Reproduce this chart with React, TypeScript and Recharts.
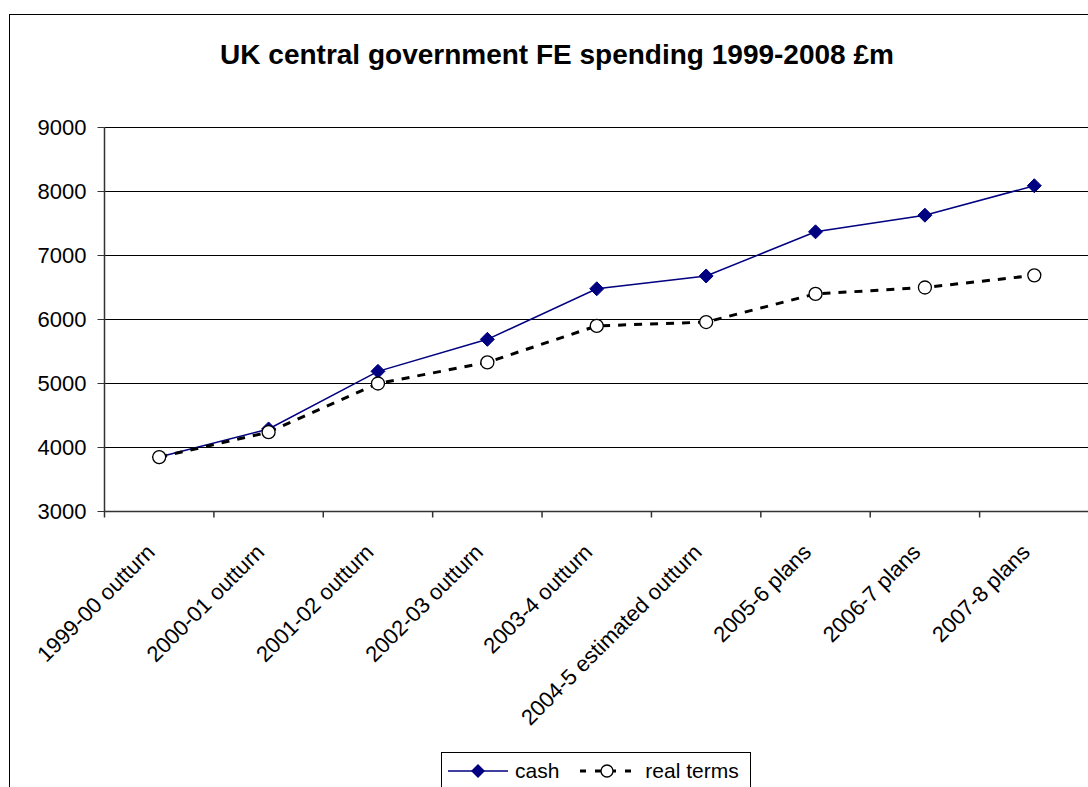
import React from "react";
import { CartesianGrid, Legend, Line, LineChart, XAxis, YAxis } from "recharts";

const CATEGORIES = [
  "1999-00 outturn",
  "2000-01 outturn",
  "2001-02 outturn",
  "2002-03 outturn",
  "2003-4 outturn",
  "2004-5 estimated outturn",
  "2005-6 plans",
  "2006-7 plans",
  "2007-8 plans",
];
const CASH = [3850, 4290, 5190, 5690, 6480, 6680, 7370, 7630, 8090];
const REAL_TERMS = [3850, 4240, 5000, 5330, 5900, 5960, 6400, 6500, 6690];
const Y_TICKS = [3000, 4000, 5000, 6000, 7000, 8000, 9000];

const data = CATEGORIES.map((name, i) => ({
  name,
  cash: CASH[i],
  real: REAL_TERMS[i],
}));

const FONT = '"Liberation Sans", Arial, sans-serif';
const NAVY = "#000080";

const CHART_W = 1094;
const CHART_H = 785;
const MARGIN = { top: 112.5, right: 15, left: 0, bottom: 88.5 };
const Y_AXIS_W = 94.5;
const X_AXIS_H = 200;
const BAND = (CHART_W - MARGIN.left - MARGIN.right - Y_AXIS_W) / CATEGORIES.length;

function Diamond({ cx, cy }: { cx?: number; cy?: number }) {
  if (cx == null || cy == null) return null;
  const r = 7;
  return (
    <polygon
      points={`${cx},${cy - r} ${cx + r},${cy} ${cx},${cy + r} ${cx - r},${cy}`}
      fill={NAVY}
      stroke={NAVY}
    />
  );
}

function OpenCircle({ cx, cy }: { cx?: number; cy?: number }) {
  if (cx == null || cy == null) return null;
  return <circle cx={cx} cy={cy} r={6.5} fill="#fff" stroke="#000" strokeWidth={1.3} />;
}

// Excel-style axis: tick marks sit between categories, labels at 45 degrees
function CategoryTick({
  x,
  y,
  payload,
  index,
}: {
  x: number;
  y: number;
  payload: { value: string };
  index: number;
}) {
  const left = x - BAND / 2;
  const tx = x - 3;
  const ty = y + 42;
  return (
    <g>
      <line x1={left} x2={left} y1={y} y2={y + 6} stroke="#333" strokeWidth={1.5} />
      {index === CATEGORIES.length - 1 && (
        <line
          x1={x + BAND / 2}
          x2={x + BAND / 2}
          y1={y}
          y2={y + 6}
          stroke="#333"
          strokeWidth={1.5}
        />
      )}
      <text
        x={tx}
        y={ty}
        transform={`rotate(-45, ${tx}, ${ty})`}
        textAnchor="end"
        fontSize={22}
        fontFamily={FONT}
        fill="#000"
      >
        {payload.value}
      </text>
    </g>
  );
}

function LegendBox() {
  return (
    <div
      style={{
        display: "flex",
        alignItems: "center",
        border: "1px solid #000",
        background: "#fff",
        height: 38,
        boxSizing: "border-box",
        padding: "0 11px 0 6px",
        fontFamily: FONT,
        fontSize: 21,
        color: "#000",
      }}
    >
      <svg width={60} height={16}>
        <line x1={0} x2={60} y1={8} y2={8} stroke={NAVY} strokeWidth={1.5} />
        <polygon points="30,1 37,8 30,15 23,8" fill={NAVY} />
      </svg>
      <span style={{ marginLeft: 7, marginRight: 20 }}>cash</span>
      <svg width={56} height={16}>
        <line
          x1={1}
          x2={55}
          y1={8}
          y2={8}
          stroke="#000"
          strokeWidth={3}
          strokeDasharray="6 9"
        />
        <circle cx={28} cy={8} r={6} fill="#fff" stroke="#000" strokeWidth={1.3} />
      </svg>
      <span style={{ marginLeft: 10 }}>real terms</span>
    </div>
  );
}

export default function App() {
  return (
    <div
      style={{
        position: "fixed",
        left: 0,
        top: 0,
        width: 1088,
        height: 787,
        overflow: "hidden",
        background: "#fff",
      }}
    >
      <div
        style={{
          position: "absolute",
          left: 9,
          top: 14,
          width: CHART_W,
          height: 800,
          border: "1px solid #000",
          background: "#fff",
        }}
      >
        <div
          style={{
            position: "absolute",
            left: 0,
            top: 24,
            width: CHART_W,
            textAlign: "center",
            fontFamily: FONT,
            fontWeight: "bold",
            fontSize: 28,
            color: "#000",
          }}
        >
          UK central government FE spending 1999-2008 £m
        </div>
        <LineChart width={CHART_W} height={CHART_H} data={data} margin={MARGIN}>
          <CartesianGrid vertical={false} stroke="#000" />
          <XAxis
            dataKey="name"
            scale="band"
            interval={0}
            height={X_AXIS_H}
            tickSize={0}
            tickMargin={0}
            axisLine={{ stroke: "#333", strokeWidth: 1.5 }}
            tick={(props: any) => <CategoryTick {...props} />}
          />
          <YAxis
            domain={[3000, 9000]}
            ticks={Y_TICKS}
            width={Y_AXIS_W}
            tickSize={7}
            tickMargin={11}
            axisLine={{ stroke: "#333", strokeWidth: 1.5 }}
            tickLine={{ stroke: "#333" }}
            tick={{ fill: "#000", fontSize: 22, fontFamily: FONT }}
          />
          <Legend
            layout="horizontal"
            verticalAlign="middle"
            align="center"
            wrapperStyle={{ position: "absolute", top: 737, left: 431, width: "auto" }}
            content={() => <LegendBox />}
          />
          <Line
            dataKey="cash"
            name="cash"
            stroke={NAVY}
            strokeWidth={1.5}
            dot={(p: any) => <Diamond key={`c${p.index}`} cx={p.cx} cy={p.cy} />}
            activeDot={false}
            isAnimationActive={false}
          />
          <Line
            dataKey="real"
            name="real terms"
            stroke="#000"
            strokeWidth={3}
            strokeDasharray="8 8"
            dot={(p: any) => <OpenCircle key={`r${p.index}`} cx={p.cx} cy={p.cy} />}
            activeDot={false}
            isAnimationActive={false}
          />
        </LineChart>
      </div>
    </div>
  );
}
